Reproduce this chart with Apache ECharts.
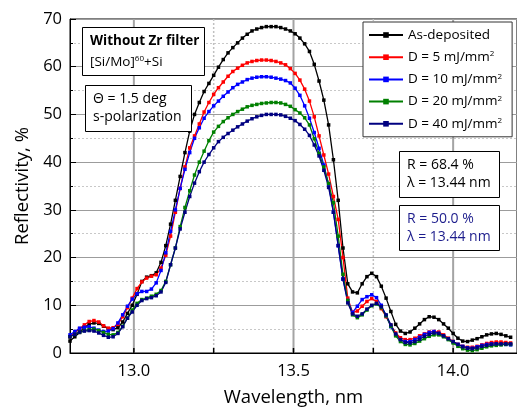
<!DOCTYPE html>
<html><head><meta charset="utf-8">
<script src="https://cdn.jsdelivr.net/npm/echarts@6/dist/echarts.min.js"></script>
<style>html,body{margin:0;padding:0;background:#fff}#c{width:517px;height:414px}</style>
</head><body><div id="c"></div>
<script>
const wavelengths = [
12.800,12.815,12.830,12.845,12.860,12.875,12.890,12.905,12.920,12.935,12.950,12.965,12.980,12.995,
13.010,13.025,13.040,13.055,13.070,13.085,13.100,13.115,13.130,13.145,13.160,13.175,13.190,13.205,
13.220,13.235,13.250,13.265,13.280,13.295,13.310,13.325,13.340,13.355,13.370,13.385,13.400,13.415,13.430,13.445,
13.460,13.475,13.490,13.505,13.520,13.535,13.550,13.565,13.580,13.595,13.610,13.625,13.640,13.655,
13.670,13.685,13.700,13.715,13.730,13.745,13.760,13.775,13.790,13.805,13.820,13.835,13.850,13.865,
13.880,13.895,13.910,13.925,13.940,13.955,13.970,13.985,14.000,14.015,14.030,14.045,14.060,14.075,
14.090,14.105,14.120,14.135,14.150,14.165,14.180];
const asDeposited = [
2.5,3.4,4.3,5.4,6.0,6.3,6.2,5.6,5.1,4.9,5.3,6.5,8.3,10.0,
12.3,15.0,15.9,16.2,16.8,19.0,22.5,27.0,32.0,37.0,42.0,46.5,50.0,52.5,
54.8,56.5,58.2,59.9,61.5,62.9,64.0,65.0,66.0,66.8,67.5,67.9,68.2,68.4,68.4,68.4,
68.2,67.9,67.5,66.9,66.0,64.8,63.2,60.5,57.0,53.0,47.8,40.5,32.0,22.0,
14.5,12.8,12.6,14.5,16.0,16.7,16.0,14.0,11.5,8.7,6.0,4.6,4.1,4.4,
5.2,6.1,7.0,7.6,7.5,7.0,6.1,5.2,4.1,3.1,2.5,2.4,2.7,3.0,
3.4,3.8,4.0,4.1,3.9,3.6,3.3];
const dose5 = [
3.4,4.3,5.1,5.9,6.6,6.8,6.5,5.7,5.2,5.3,6.0,7.6,9.5,11.5,
13.5,14.9,15.7,16.1,16.4,17.8,20.5,24.5,29.5,34.5,39.0,43.0,45.5,48.0,
50.5,52.5,54.2,55.6,56.8,58.0,59.0,59.7,60.3,60.8,61.1,61.3,61.4,61.4,61.3,61.1,
60.8,60.4,59.6,58.6,57.2,55.3,52.8,49.5,45.5,41.5,37.5,32.8,28.0,20.0,
11.5,8.5,8.8,9.8,10.8,11.4,10.8,9.3,7.6,5.8,4.2,3.2,2.8,2.8,
3.1,3.6,4.0,4.4,4.5,4.4,3.8,3.1,2.4,1.8,1.4,1.2,1.2,1.4,
1.7,2.0,2.2,2.3,2.3,2.2,2.1];
const dose10 = [
3.8,4.5,5.2,5.4,5.5,5.2,4.8,4.5,4.6,5.1,6.3,8.0,9.8,11.3,
12.4,12.9,12.9,13.4,14.7,17.3,21.0,25.5,30.0,34.5,38.5,42.0,45.0,47.2,
49.2,50.6,51.8,52.8,53.8,54.7,55.6,56.3,56.8,57.3,57.6,57.8,57.9,57.9,57.8,57.6,
57.4,57.1,56.6,55.5,54.0,51.8,49.2,46.2,42.9,39.4,35.3,29.5,22.5,15.5,
11.0,8.5,9.8,11.2,11.8,12.2,11.6,10.0,7.8,5.5,3.8,2.8,2.4,2.4,
2.8,3.3,3.9,4.3,4.5,4.1,3.5,2.9,2.3,1.8,1.4,1.1,1.0,1.3,
1.6,1.8,1.9,1.9,1.8,1.8,1.7];
const dose20 = [
3.4,3.9,4.4,4.7,4.9,5.0,4.7,4.3,3.9,3.8,4.3,5.6,7.3,9.0,
10.4,11.2,11.5,11.9,12.3,13.1,15.0,18.5,22.0,26.5,30.5,34.0,37.3,40.0,
42.3,44.5,46.3,47.5,48.5,49.3,50.0,50.6,51.1,51.6,51.9,52.1,52.3,52.4,52.5,52.5,
52.4,52.1,51.7,51.0,50.3,49.3,47.8,44.9,41.8,39.0,35.5,31.5,24.5,16.5,
11.0,8.0,7.4,8.0,9.0,9.9,10.3,9.5,7.8,5.6,3.6,2.4,1.8,1.7,
2.0,2.5,3.0,3.5,3.8,3.8,3.4,2.8,2.1,1.4,0.9,0.6,0.5,0.7,
1.0,1.3,1.5,1.6,1.7,1.8,1.8];
const dose40 = [
3.4,3.9,4.4,4.6,4.7,4.6,4.2,3.7,3.3,3.4,4.1,5.5,7.3,8.6,
10.0,11.0,11.4,11.6,12.0,12.8,14.8,18.5,22.0,26.0,29.5,32.8,35.6,38.0,
40.0,41.6,43.0,44.3,45.2,46.0,46.7,47.4,48.0,48.6,49.1,49.5,49.8,50.0,50.0,50.0,
49.9,49.6,49.2,48.7,47.9,46.9,45.6,43.6,41.3,38.3,34.7,29.5,22.5,15.5,
10.5,8.2,7.7,8.2,9.2,10.0,10.4,9.7,8.0,5.9,4.0,2.8,2.2,2.1,
2.4,2.9,3.5,3.9,4.2,4.1,3.6,3.0,2.4,1.8,1.3,1.0,0.9,1.1,
1.4,1.6,1.8,1.9,1.9,1.9,1.9];
const seriesNames = ['As-deposited','D = 5 mJ/mm2','D = 10 mJ/mm2','D = 20 mJ/mm2','D = 40 mJ/mm2'];
const seriesValues = [asDeposited, dose5, dose10, dose20, dose40];
const seriesColors = ['#000000','#ff0000','#0000ff','#008000','#000080'];
const xMajorTicks = [13.0, 13.5, 14.0];
const xMinorTicks = [13.25, 13.75];
const xAllTicks = [13.0, 13.25, 13.5, 13.75, 14.0];
const Y_MIN = 0, Y_MAX = 70;

const FONT = 'Open Sans';
const PLOT_H = 334, TICK_PX = 5;
const tickLen = (Y_MAX - Y_MIN) * TICK_PX / PLOT_H;
const chart = echarts.init(document.getElementById('c'), null, {renderer:'canvas'});
const series = [];
xAllTicks.forEach(v=>{
  const major = xMajorTicks.indexOf(v) >= 0;
  series.push({type:'line', silent:true, z:1, symbol:'none', animation:false, legendHoverLink:false,
    data:[[v, Y_MIN],[v, Y_MAX]],
    lineStyle:{color: major ? '#a4a4a4' : '#c0c0c0', width: major ? 2 : 1.5, type: major ? 'solid' : [2,2]},
    emphasis:{disabled:true}});
  series.push({type:'line', silent:true, z:4, symbol:'none', animation:false,
    data:[[v, Y_MIN],[v, Y_MIN + tickLen]],
    lineStyle:{color:'#000', width:1.5}, emphasis:{disabled:true}});
});
seriesNames.forEach((n,i)=>series.push({
  name:n, type:'line', z:3,
  data: wavelengths.map((w,j)=>[w, seriesValues[i][j]]),
  symbol:'rect', symbolSize:3.5, showSymbol:true, clip:true,
  lineStyle:{color:seriesColors[i], width:1.3},
  itemStyle:{color:seriesColors[i]},
  emphasis:{disabled:true}, animation:false
}));
const boxes = [
  {type:'rect', z:100, shape:{x:82.5, y:27.5, width:122, height:48}, style:{fill:'#fff', stroke:'#000', lineWidth:1}},
  {type:'text', z:101, style:{text:'Without Zr filter', x:90, y:41, verticalAlign:'middle', fill:'#000', fontSize:13.5, fontWeight:'bold', fontFamily:FONT}},
  {type:'text', z:101, style:{text:'[Si/Mo]{sup|60}+Si', x:90, y:62, verticalAlign:'middle', fill:'#000', fontSize:13.5, fontFamily:FONT, rich:{sup:{fontSize:8, fontFamily:FONT, verticalAlign:'top', fill:'#000'}}}},
  {type:'rect', z:100, shape:{x:85.5, y:85.5, width:106, height:46}, style:{fill:'#fff', stroke:'#000', lineWidth:1}},
  {type:'text', z:101, style:{text:'\u0398 = 1.5 deg', x:93, y:99, verticalAlign:'middle', fill:'#000', fontSize:14, fontFamily:FONT}},
  {type:'text', z:101, style:{text:'s-polarization', x:93, y:117, verticalAlign:'middle', fill:'#000', fontSize:14, fontFamily:FONT}},
  {type:'rect', z:100, shape:{x:399.5, y:151.5, width:100, height:46}, style:{fill:'#fff', stroke:'#000', lineWidth:1}},
  {type:'text', z:101, style:{text:'R = 68.4 %', x:407, y:165, verticalAlign:'middle', fill:'#000', fontSize:14, fontFamily:FONT}},
  {type:'text', z:101, style:{text:'\u03bb = 13.44 nm', x:407, y:183, verticalAlign:'middle', fill:'#000', fontSize:14, fontFamily:FONT}},
  {type:'rect', z:100, shape:{x:399.5, y:205.5, width:100, height:45}, style:{fill:'#fff', stroke:'#000', lineWidth:1}},
  {type:'text', z:101, style:{text:'R = 50.0 %', x:407, y:219, verticalAlign:'middle', fill:'#1c1c8c', fontSize:14, fontFamily:FONT}},
  {type:'text', z:101, style:{text:'\u03bb = 13.44 nm', x:407, y:237, verticalAlign:'middle', fill:'#1c1c8c', fontSize:14, fontFamily:FONT}}
];
chart.setOption({
  animation:false,
  grid:{left:70, top:19, width:455, height:PLOT_H, show:true, borderColor:'#000', borderWidth:1},
  xAxis:{
    type:'value', min:12.8, max:14.2, interval:0.05,
    axisLine:{show:true, lineStyle:{color:'#000'}},
    axisTick:{show:false},
    axisLabel:{show:true, customValues:xMajorTicks, color:'#000', fontSize:16.5, fontFamily:FONT, margin:10,
      formatter:v=>v.toFixed(1)},
    splitLine:{show:false},
    name:'Wavelength, nm', nameLocation:'middle', nameGap:35,
    nameTextStyle:{color:'#000', fontSize:18.5, fontFamily:FONT}
  },
  yAxis:{
    type:'value', min:Y_MIN, max:Y_MAX, interval:10,
    axisLine:{show:true, lineStyle:{color:'#000'}},
    axisTick:{show:true, inside:true, length:6, lineStyle:{color:'#000'}},
    minorTick:{show:true, splitNumber:2, length:3, lineStyle:{color:'#000'}},
    splitLine:{show:true, lineStyle:{color:'#9c9c9c'}},
    minorSplitLine:{show:true, lineStyle:{color:'#c8c8c8', type:[2,2]}},
    axisLabel:{color:'#000', fontSize:16.5, fontFamily:FONT, margin:8},
    name:'Reflectivity, %', nameLocation:'middle', nameGap:37,
    nameTextStyle:{color:'#000', fontSize:18.5, fontFamily:FONT}
  },
  legend:{
    data:seriesNames, orient:'vertical', left:363, top:22,
    backgroundColor:'#fff', borderColor:'#333', borderWidth:1,
    padding:[6,10,6,5], itemGap:8.2, itemWidth:34, itemHeight:7,
    textStyle:{color:'#000', fontSize:13.5, fontFamily:FONT,
      rich:{sup:{fontSize:8, fontFamily:FONT, verticalAlign:'top', color:'#000'}}},
    formatter:n=>n.replace(/mm2$/, 'mm{sup|2}'),
    selectedMode:false
  },
  graphic: boxes,
  series:series
});
</script></body></html>
